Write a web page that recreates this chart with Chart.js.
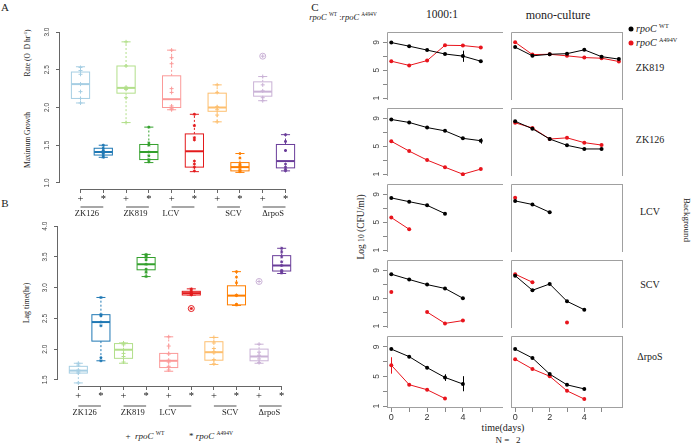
<!DOCTYPE html>
<html lang="en">
<head>
<meta charset="utf-8">
<title>rpoC A494V - growth, lag and competition</title>
<script src="https://cdn.jsdelivr.net/npm/chart.js@4.4.1/dist/chart.umd.min.js"></script>
<style>
  html, body { margin: 0; padding: 0; background: #fff; }
  #fig { position: relative; width: 691px; height: 445px; overflow: hidden;
         font-family: "Liberation Serif", "DejaVu Serif", serif; color: #222; }
  #fig canvas { position: absolute; }
  .lbl { position: absolute; white-space: nowrap; line-height: 1; transform: translate(-50%, -50%); }
  .left { transform: translate(0, -50%); }
  .up { transform: translate(-50%, -50%) rotate(-90deg); }
  .down { transform: translate(-50%, -50%) rotate(90deg); }
  .lbl sup { font-size: 0.62em; vertical-align: 0.7em; line-height: 0; }
  .dot { position: absolute; width: 5px; height: 5px; border-radius: 50%; transform: translate(-50%, -50%); }
</style>
</head>
<body>
<div id="fig">
  <!-- Panel letters -->
  <div class="lbl" style="left:5px;top:7px;font-size:11px">A</div>
  <div class="lbl" style="left:5px;top:203px;font-size:11px">B</div>
  <div class="lbl" style="left:315px;top:7px;font-size:11px">C</div>

  <!-- Achsentitel A / B -->
  <div class="lbl up" style="left:28px;top:140px;font-size:7.5px">Maximum Growth</div>
  <div class="lbl up" style="left:28px;top:53px;font-size:7.5px">Rate (O&nbsp;&nbsp;D hr<sup>-1</sup>)</div>
  <div class="lbl up" style="left:27px;top:303px;font-size:8px">Lag time(hr)</div>

  <!-- Legende B -->
  <div class="lbl" style="left:145px;top:436px;font-size:9px">+&nbsp;&nbsp;<i>rpoC</i> <sup>WT</sup></div>
  <div class="lbl" style="left:211px;top:436px;font-size:9px">*&nbsp;<i>rpoC</i> <sup>A494V</sup></div>

  <!-- Panel C Texte -->
  <div class="lbl" style="left:343px;top:17px;font-size:8.5px"><i>rpoC</i> <sup>WT</sup> :<i>rpoC</i> <sup>A494V</sup></div>
  <div class="lbl" style="left:442px;top:15px;font-size:11.5px">1000:1</div>
  <div class="lbl" style="left:558px;top:15px;font-size:12px">mono-culture</div>

  <div class="dot" style="left:631px;top:29px;background:#000"></div>
  <div class="dot" style="left:631px;top:43px;background:#e8141c"></div>
  <div class="lbl left" style="left:636px;top:29px;font-size:10px"><i>rpoC</i> <sup>WT</sup></div>
  <div class="lbl left" style="left:636px;top:43px;font-size:10px"><i>rpoC</i> <sup>A494V</sup></div>

  <div class="lbl" style="left:650px;top:68px;font-size:10px">ZK819</div>
  <div class="lbl" style="left:650px;top:140px;font-size:10px">ZK126</div>
  <div class="lbl" style="left:650px;top:212px;font-size:10px">LCV</div>
  <div class="lbl" style="left:650px;top:285px;font-size:10px">SCV</div>
  <div class="lbl" style="left:650px;top:357px;font-size:10px">ΔrpoS</div>
  <div class="lbl down" style="left:686px;top:220px;font-size:9px">Background</div>

  <div class="lbl up" style="left:362px;top:227px;font-size:9.5px">Log <span style="font-size:0.8em">10</span> (CFU/ml)</div>
  <div class="lbl" style="left:503px;top:428px;font-size:10px">time(days)</div>
  <div class="lbl" style="left:508px;top:440px;font-size:9px">N =&nbsp;&nbsp;&nbsp;2</div>
</div>

<script>
// ==================== Daten: Panel A / B ====================

const GROUPS = ['ZK126', 'ZK819', 'LCV', 'SCV', 'ΔrpoS'];
const STRAIN_MARKS = ['+', '*'];                 // rpoC WT / rpoC A494V
const CAT_TICKS = [1, 2, 3, 4, 5, 6, 7, 8, 9, 10];

// Reihenfolge: ZK126+, ZK126*, ZK819+, ZK819*, LCV+, LCV*, SCV+, SCV*, ΔrpoS+, ΔrpoS*
const GROWTH_TICKS = [1.0, 1.5, 2.0, 2.5, 3.0];
const GROWTH_MIN = [2.06, 1.34, 1.80, 1.27, 1.97, 1.15, 1.81, 1.14, 2.09, 1.16];
const GROWTH_Q1  = [2.12, 1.37, 2.19, 1.31, 2.00, 1.21, 1.95, 1.16, 2.15, 1.20];
const GROWTH_MED = [2.31, 1.41, 2.26, 1.41, 2.11, 1.42, 2.00, 1.21, 2.21, 1.29];
const GROWTH_Q3  = [2.47, 1.46, 2.55, 1.51, 2.42, 1.65, 2.19, 1.27, 2.34, 1.51];
const GROWTH_MAX = [2.54, 1.50, 2.87, 1.74, 2.76, 1.91, 2.30, 1.39, 2.41, 1.64];
const GROWTH_OUTLIERS = [[], [], [], [], [], [], [], [], [2.68], []];
const GROWTH_POINTS = [
    [2.53, 2.49, 2.44, 2.31, 2.21, 2.12, 2.06],
    [1.50, 1.46, 1.43, 1.41, 1.39, 1.36, 1.34],
    [2.87, 2.55, 2.27, 2.25, 2.24, 2.13, 1.80],
    [1.74, 1.53, 1.50, 1.41, 1.36, 1.31, 1.28],
    [2.76, 2.66, 2.58, 2.25, 2.20, 2.02, 1.99, 1.97],
    [1.91, 1.76, 1.60, 1.57, 1.29, 1.25, 1.21, 1.16],
    [2.30, 2.20, 2.01, 2.00, 1.97, 1.90, 1.81],
    [1.39, 1.33, 1.25, 1.23, 1.21, 1.18, 1.16, 1.15],
    [2.68, 2.41, 2.30, 2.22, 2.13, 2.09],
    [1.64, 1.55, 1.43, 1.25, 1.21, 1.18, 1.16]
];

const LAG_TICKS = [1.5, 2.0, 2.5, 3.0, 3.5, 4.0];
const LAG_MIN = [1.45, 1.81, 1.77, 3.18, 1.64, 2.88, 1.75, 2.71, 1.77, 3.23];
const LAG_Q1  = [1.61, 2.13, 1.85, 3.29, 1.70, 2.88, 1.82, 2.72, 1.81, 3.27];
const LAG_MED = [1.65, 2.44, 1.99, 3.38, 1.81, 2.91, 1.95, 2.87, 1.88, 3.36];
const LAG_Q3  = [1.72, 2.56, 2.09, 3.49, 1.93, 2.94, 2.12, 3.03, 2.00, 3.52];
const LAG_MAX = [1.77, 2.84, 2.10, 3.54, 2.20, 2.98, 2.19, 3.26, 2.08, 3.64];
const LAG_OUTLIERS = [[], [], [], [], [], [2.66], [], [], [3.10], []];
const LAG_POINTS = [
    [1.77, 1.74, 1.66, 1.63, 1.61, 1.45],
    [2.84, 2.56, 2.54, 2.44, 2.38, 1.86, 1.81],
    [2.10, 2.07, 1.99, 1.93, 1.88, 1.79],
    [3.54, 3.52, 3.49, 3.45, 3.38, 3.30, 3.25, 3.18],
    [2.20, 2.05, 1.92, 1.82, 1.79, 1.72, 1.66],
    [2.98, 2.95, 2.92, 2.90, 2.89, 2.88, 2.66],
    [2.19, 2.10, 2.01, 1.96, 1.94, 1.83, 1.76],
    [3.26, 3.17, 3.08, 2.88, 2.87, 2.73, 2.72],
    [3.10, 2.08, 1.95, 1.90, 1.84, 1.78],
    [3.64, 3.58, 3.50, 3.42, 3.36, 3.28, 3.26, 3.24]
];

// ==================== Daten: Panel C (log10 CFU/ml) ====================

const DAYS = [0, 1, 2, 3, 4, 5, 6];
const LOG_TICKS = [1, 3, 5, 7, 9];
const LOG_LABELS = [1, 5, 9];
const DAY_TICKS = [0, 1, 2, 3, 4, 5];
const DAY_LABELS = [0, 2, 4];

// Ko-Kultur 1000:1
const CO_ZK819_WT  = [8.96, 8.44, 7.88, 7.32, 7.02, 6.29, null];
const CO_ZK819_MUT = [6.29, 5.69, 6.38, 8.57, 8.53, 8.27, null];
const CO_ZK126_WT  = [8.83, 8.40, 7.67, 7.20, 6.13, 5.79, null];
const CO_ZK126_MUT = [5.71, 4.30, 3.02, 1.99, 1.00, 1.73, null];
const CO_LCV_WT    = [8.48, 7.94, 7.42, 6.23, null, null, null];
const CO_LCV_MUT   = [5.67, 3.99, null, null, null, null, null];
const CO_SCV_WT    = [8.44, 7.68, 6.95, 6.40, 5.00, null, null];
const CO_SCV_MUT   = [5.88, null, 3.02, 1.40, 1.80, null, null];
const CO_RPOS_WT   = [8.70, 7.68, 6.19, 4.87, 3.98, null, null];
const CO_RPOS_MUT  = [6.53, 3.89, 3.21, 2.02, null, null, null];

// Monokultur
const MONO_ZK819_WT  = [8.31, 7.06, 7.28, 7.37, 7.92, 6.94, 6.59];
const MONO_ZK819_MUT = [9.00, 7.24, 7.28, 7.06, 6.81, 6.72, 6.25];
const MONO_ZK126_WT  = [8.57, 7.50, 6.03, 5.13, 4.61, 4.61, null];
const MONO_ZK126_MUT = [8.35, 7.62, 6.03, 6.20, 5.51, 5.17, null];
const MONO_LCV_WT    = [8.05, 7.54, 6.42, null, null, null, null];
const MONO_LCV_MUT   = [8.50, null, null, null, null, null, null];
const MONO_SCV_WT    = [8.23, 6.14, 7.04, 4.56, 3.36, null, null];
const MONO_SCV_MUT   = [8.44, 7.29, null, 1.53, null, null, null];
const MONO_RPOS_WT   = [8.70, 7.50, 5.32, 3.87, 3.32, null, null];
const MONO_RPOS_MUT  = [7.33, 6.01, 5.03, 3.06, 1.95, null, null];

// Fehlerbalken: [Tag, unten, oben]
const ERR_CO_ZK819_WT = [[4, 6.20, 7.80]];
const ERR_CO_ZK126_WT = [[5, 5.37, 6.14]];
const ERR_CO_LCV_MUT  = [[1, 3.75, 4.20]];
const ERR_CO_RPOS_WT  = [[3, 4.40, 5.30], [4, 3.00, 5.04]];
const ERR_CO_RPOS_MUT = [[0, 5.38, 7.60]];

// ==================== Stil ====================

const BOX_COLORS = ['#A6CEE3', '#1F78B4', '#B2DF8A', '#33A02C', '#FB9A99',
                    '#E31A1C', '#FDBF6F', '#FF7F00', '#CAB2D6', '#6A3D9A'];
const WT_COLOR = '#000000';
const MUT_COLOR = '#e8141c';
const AXIS_COLOR = '#666';
const FRAME_COLOR = '#a0a0a0';
const SANS = '"Liberation Sans", Arial, sans-serif';
const SERIF = '"Liberation Serif", "Times New Roman", serif';
const BOX_WIDTH = 0.8;                       // in Kategorie-Einheiten
const GROUP_SHIFT_PX = [-5, -2, -12, 5, -1]; // Lage der Gruppennamen

// Panel C Raster
const PANEL_LEFT = [387, 507];
const PANEL_TOP = [28, 104, 180, 256, 332];
const PANEL_W = 120;
const PANEL_H = 76;

Chart.defaults.font.family = SANS;

// ==================== Hilfsfunktionen ====================

function addCanvas(left, top, width, height) {
    const c = document.createElement('canvas');
    c.width = width;
    c.height = height;
    c.style.left = left + 'px';
    c.style.top = top + 'px';
    c.style.width = width + 'px';
    c.style.height = height + 'px';
    document.getElementById('fig').appendChild(c);
    return c;
}

function fixedTicks(values) {
    return scale => { scale.ticks = values.map(v => ({ value: v })); };
}

// Gedrehte y-Beschriftung (wie in R, parallel zur Achse)
function drawRotatedYLabels(chart, values, offset, size, fmt) {
    const { ctx, chartArea, scales: { y } } = chart;
    ctx.save();
    ctx.font = `${size}px ${SANS}`;
    ctx.fillStyle = '#444';
    ctx.textAlign = 'center';
    ctx.textBaseline = 'middle';
    values.forEach(v => {
        ctx.save();
        ctx.translate(chartArea.left - offset, y.getPixelForValue(v));
        ctx.rotate(-Math.PI / 2);
        ctx.fillText(fmt(v), 0, 0);
        ctx.restore();
    });
    ctx.restore();
}

// ==================== Plugins ====================

function makeBoxPlugin(mins, q1s, meds, q3s, maxs) {
    return {
        id: 'boxes',
        beforeDatasetsDraw(chart) {
            const { ctx, scales: { x, y } } = chart;
            const half = x.getPixelForValue(1 + BOX_WIDTH / 2) - x.getPixelForValue(1);
            ctx.save();
            meds.forEach((med, i) => {
                const cx = x.getPixelForValue(i + 1);
                const yMin = y.getPixelForValue(mins[i]);
                const yQ1 = y.getPixelForValue(q1s[i]);
                const yMed = y.getPixelForValue(med);
                const yQ3 = y.getPixelForValue(q3s[i]);
                const yMax = y.getPixelForValue(maxs[i]);
                ctx.strokeStyle = BOX_COLORS[i];

                // Whisker gestrichelt
                ctx.lineWidth = 1;
                ctx.setLineDash([2, 2]);
                ctx.beginPath();
                ctx.moveTo(cx, yQ3); ctx.lineTo(cx, yMax);
                ctx.moveTo(cx, yQ1); ctx.lineTo(cx, yMin);
                ctx.stroke();
                ctx.setLineDash([]);

                // Enden
                ctx.beginPath();
                ctx.moveTo(cx - half / 2, yMax); ctx.lineTo(cx + half / 2, yMax);
                ctx.moveTo(cx - half / 2, yMin); ctx.lineTo(cx + half / 2, yMin);
                ctx.stroke();

                // Box
                ctx.fillStyle = '#fff';
                ctx.fillRect(cx - half, yQ3, 2 * half, yQ1 - yQ3);
                ctx.strokeRect(cx - half, yQ3, 2 * half, yQ1 - yQ3);

                // Median
                ctx.lineWidth = 2;
                ctx.beginPath();
                ctx.moveTo(cx - half, yMed); ctx.lineTo(cx + half, yMed);
                ctx.stroke();
            });
            ctx.restore();
        }
    };
}

function makeRAxisPlugin(yTicks, labelOffset, lineOffset, textOffset) {
    return {
        id: 'rAxis',
        afterDraw(chart) {
            const { ctx, chartArea, scales: { x, y } } = chart;
            ctx.save();
            ctx.strokeStyle = AXIS_COLOR;
            ctx.lineWidth = 1;
            ctx.beginPath();
            ctx.moveTo(x.getPixelForValue(CAT_TICKS[0]), chartArea.bottom + 0.5);
            ctx.lineTo(x.getPixelForValue(CAT_TICKS[CAT_TICKS.length - 1]), chartArea.bottom + 0.5);
            ctx.moveTo(chartArea.left - 0.5, y.getPixelForValue(yTicks[0]));
            ctx.lineTo(chartArea.left - 0.5, y.getPixelForValue(yTicks[yTicks.length - 1]));
            ctx.stroke();

            // Gruppen unter der x-Achse
            ctx.strokeStyle = '#8a8a8a';
            ctx.lineWidth = 1.5;
            ctx.fillStyle = '#222';
            ctx.font = `8.5px ${SERIF}`;
            ctx.textAlign = 'center';
            ctx.textBaseline = 'middle';
            GROUPS.forEach((g, k) => {
                const x0 = x.getPixelForValue(2 * k + 1);
                const x1 = x.getPixelForValue(2 * k + 2);
                ctx.beginPath();
                ctx.moveTo(x0, chartArea.bottom + lineOffset);
                ctx.lineTo(x1, chartArea.bottom + lineOffset);
                ctx.stroke();
                ctx.fillText(g, (x0 + x1) / 2 + GROUP_SHIFT_PX[k], chartArea.bottom + textOffset);
            });
            ctx.restore();

            drawRotatedYLabels(chart, yTicks, labelOffset, 6.5, v => v.toFixed(1));
        }
    };
}

function makePanelPlugin(p, isBottom) {
    return {
        id: 'panelFrame',
        afterDatasetsDraw(chart) {
            const { ctx, chartArea: a, scales: { x, y } } = chart;
            ctx.save();
            ctx.lineWidth = 1;

            // Fehlerbalken
            [[p.errWt, WT_COLOR], [p.errMut, MUT_COLOR]].forEach(([errs, color]) => {
                ctx.strokeStyle = color;
                errs.forEach(([d, lo, hi]) => {
                    const px = Math.round(x.getPixelForValue(d)) + 0.5;
                    ctx.beginPath();
                    ctx.moveTo(px, y.getPixelForValue(lo));
                    ctx.lineTo(px, y.getPixelForValue(hi));
                    ctx.stroke();
                });
            });

            // Rahmen
            ctx.strokeStyle = FRAME_COLOR;
            ctx.beginPath();
            ctx.moveTo(a.left + 0.5, a.bottom);
            ctx.lineTo(a.left + 0.5, a.top + 0.5);
            ctx.lineTo(a.right, a.top + 0.5);
            if (p.col === 1) {
                ctx.moveTo(a.right - 0.5, a.top);
                ctx.lineTo(a.right - 0.5, a.bottom);
            }
            if (isBottom) {
                ctx.moveTo(a.left, a.bottom - 0.5);
                ctx.lineTo(a.right, a.bottom - 0.5);
            }
            ctx.stroke();
            ctx.restore();

            if (p.col === 0) {
                drawRotatedYLabels(chart, LOG_LABELS, 10.5, 8.5, v => String(v));
            }
        }
    };
}

// ==================== Boxplots (A, B) ====================

function buildBoxChart(cfg) {
    const canvas = addCanvas(cfg.left, cfg.top, cfg.width, cfg.height);

    const datasets = cfg.points.map((vals, i) => ({
        type: 'scatter',
        data: vals.map(v => ({ x: i + 1, y: v })),
        pointStyle: i % 2 === 0 ? 'cross' : 'star',
        pointRadius: i % 2 === 0 ? 2 : 1.5,
        pointBorderWidth: 1,
        borderColor: BOX_COLORS[i],
        backgroundColor: BOX_COLORS[i]
    }));

    cfg.outliers.forEach((vals, i) => {
        if (!vals.length) return;
        datasets.push({
            type: 'scatter',
            data: vals.map(v => ({ x: i + 1, y: v })),
            pointStyle: 'circle',
            pointRadius: 3,
            pointBorderWidth: 1,
            borderColor: BOX_COLORS[i],
            backgroundColor: 'rgba(0,0,0,0)'
        });
    });

    return new Chart(canvas, {
        type: 'scatter',
        data: { datasets },
        options: {
            responsive: false,
            animation: false,
            devicePixelRatio: 1,
            events: [],
            layout: { padding: { top: cfg.padTop, left: 0, right: 0, bottom: 0 } },
            plugins: { legend: { display: false }, tooltip: { enabled: false } },
            scales: {
                x: {
                    type: 'linear',
                    min: 0.1,
                    max: 10.9,
                    afterBuildTicks: fixedTicks(CAT_TICKS),
                    afterFit: s => { s.height = cfg.xAxisHeight; },
                    border: { display: false },
                    grid: { drawOnChartArea: false, tickLength: 4, color: AXIS_COLOR },
                    ticks: {
                        autoSkip: false,
                        maxRotation: 0,
                        padding: 0,
                        color: '#111',
                        font: { family: SERIF, size: 10.5 },
                        callback: v => STRAIN_MARKS[(v - 1) % 2]
                    }
                },
                y: {
                    type: 'linear',
                    min: cfg.yMin,
                    max: cfg.yMax,
                    afterBuildTicks: fixedTicks(cfg.yTicks),
                    afterFit: s => { s.width = cfg.yAxisWidth; },
                    border: { display: false },
                    grid: { drawOnChartArea: false, tickLength: 4, color: AXIS_COLOR },
                    ticks: { display: false }
                }
            }
        },
        plugins: [
            makeBoxPlugin(cfg.mins, cfg.q1s, cfg.meds, cfg.q3s, cfg.maxs),
            makeRAxisPlugin(cfg.yTicks, cfg.labelOffset, cfg.lineOffset, cfg.textOffset)
        ]
    });
}

// ==================== Zeitverläufe (C) ====================

const PANELS = [
    { row: 0, col: 0, wt: CO_ZK819_WT, mut: CO_ZK819_MUT, errWt: ERR_CO_ZK819_WT, errMut: [] },
    { row: 1, col: 0, wt: CO_ZK126_WT, mut: CO_ZK126_MUT, errWt: ERR_CO_ZK126_WT, errMut: [] },
    { row: 2, col: 0, wt: CO_LCV_WT,   mut: CO_LCV_MUT,   errWt: [],              errMut: ERR_CO_LCV_MUT },
    { row: 3, col: 0, wt: CO_SCV_WT,   mut: CO_SCV_MUT,   errWt: [],              errMut: [] },
    { row: 4, col: 0, wt: CO_RPOS_WT,  mut: CO_RPOS_MUT,  errWt: ERR_CO_RPOS_WT,  errMut: ERR_CO_RPOS_MUT },
    { row: 0, col: 1, wt: MONO_ZK819_WT, mut: MONO_ZK819_MUT, errWt: [], errMut: [] },
    { row: 1, col: 1, wt: MONO_ZK126_WT, mut: MONO_ZK126_MUT, errWt: [], errMut: [] },
    { row: 2, col: 1, wt: MONO_LCV_WT,   mut: MONO_LCV_MUT,   errWt: [], errMut: [] },
    { row: 3, col: 1, wt: MONO_SCV_WT,   mut: MONO_SCV_MUT,   errWt: [], errMut: [] },
    { row: 4, col: 1, wt: MONO_RPOS_WT,  mut: MONO_RPOS_MUT,  errWt: [], errMut: [] }
];

function series(values, color) {
    return {
        data: DAYS.map((d, i) => ({ x: d, y: values[i] })),
        borderColor: color,
        backgroundColor: color,
        borderWidth: 1,
        pointRadius: 2,
        pointBorderWidth: 0,
        spanGaps: false
    };
}

function buildPanel(p) {
    const isLeft = p.col === 0;
    const isBottom = p.row === PANEL_TOP.length - 1;
    const yW = isLeft ? 30 : 0;
    const xH = isBottom ? 22 : 0;
    const canvas = addCanvas(PANEL_LEFT[p.col] - yW, PANEL_TOP[p.row], PANEL_W + yW, PANEL_H + xH);

    return new Chart(canvas, {
        type: 'line',
        data: { datasets: [series(p.wt, WT_COLOR), series(p.mut, MUT_COLOR)] },
        options: {
            responsive: false,
            animation: false,
            devicePixelRatio: 1,
            events: [],
            layout: { padding: 0 },
            plugins: { legend: { display: false }, tooltip: { enabled: false } },
            scales: {
                x: {
                    type: 'linear',
                    display: isBottom,
                    min: -0.24,
                    max: 6.24,
                    afterBuildTicks: fixedTicks(DAY_TICKS),
                    afterFit: s => { s.height = xH; },
                    border: { display: false },
                    grid: { drawOnChartArea: false, tickLength: 4, color: '#888' },
                    ticks: {
                        autoSkip: false,
                        maxRotation: 0,
                        padding: 0,
                        color: '#333',
                        font: { size: 9 },
                        callback: v => (DAY_LABELS.includes(v) ? String(v) : '')
                    }
                },
                y: {
                    type: 'linear',
                    display: isLeft,
                    min: 0.74,
                    max: 10.47,
                    afterBuildTicks: fixedTicks(LOG_TICKS),
                    afterFit: s => { s.width = yW; },
                    border: { display: false },
                    grid: { drawOnChartArea: false, tickLength: 4, color: '#888' },
                    ticks: { display: false }
                }
            }
        },
        plugins: [makePanelPlugin(p, isBottom)]
    });
}

// ==================== Initialisierung ====================

function init() {
    // A: maximale Wachstumsrate
    buildBoxChart({
        left: 0, top: 0, width: 311, height: 225,
        padTop: 26, xAxisHeight: 36, yAxisWidth: 60,
        yMin: 0.92, yMax: 3.08, yTicks: GROWTH_TICKS,
        mins: GROWTH_MIN, q1s: GROWTH_Q1, meds: GROWTH_MED, q3s: GROWTH_Q3, maxs: GROWTH_MAX,
        points: GROWTH_POINTS, outliers: GROWTH_OUTLIERS,
        labelOffset: 13, lineOffset: 18, textOffset: 25
    });

    // B: Lag-Zeit
    buildBoxChart({
        left: 0, top: 200, width: 307, height: 226,
        padTop: 20, xAxisHeight: 40, yAxisWidth: 58,
        yMin: 1.4, yMax: 4.1, yTicks: LAG_TICKS,
        mins: LAG_MIN, q1s: LAG_Q1, meds: LAG_MED, q3s: LAG_Q3, maxs: LAG_MAX,
        points: LAG_POINTS, outliers: LAG_OUTLIERS,
        labelOffset: 12.5, lineOffset: 20, textOffset: 27
    });

    // C: Kompetition vs. Monokultur
    PANELS.forEach(buildPanel);
}

document.addEventListener('DOMContentLoaded', init);
</script>
</body>
</html>
